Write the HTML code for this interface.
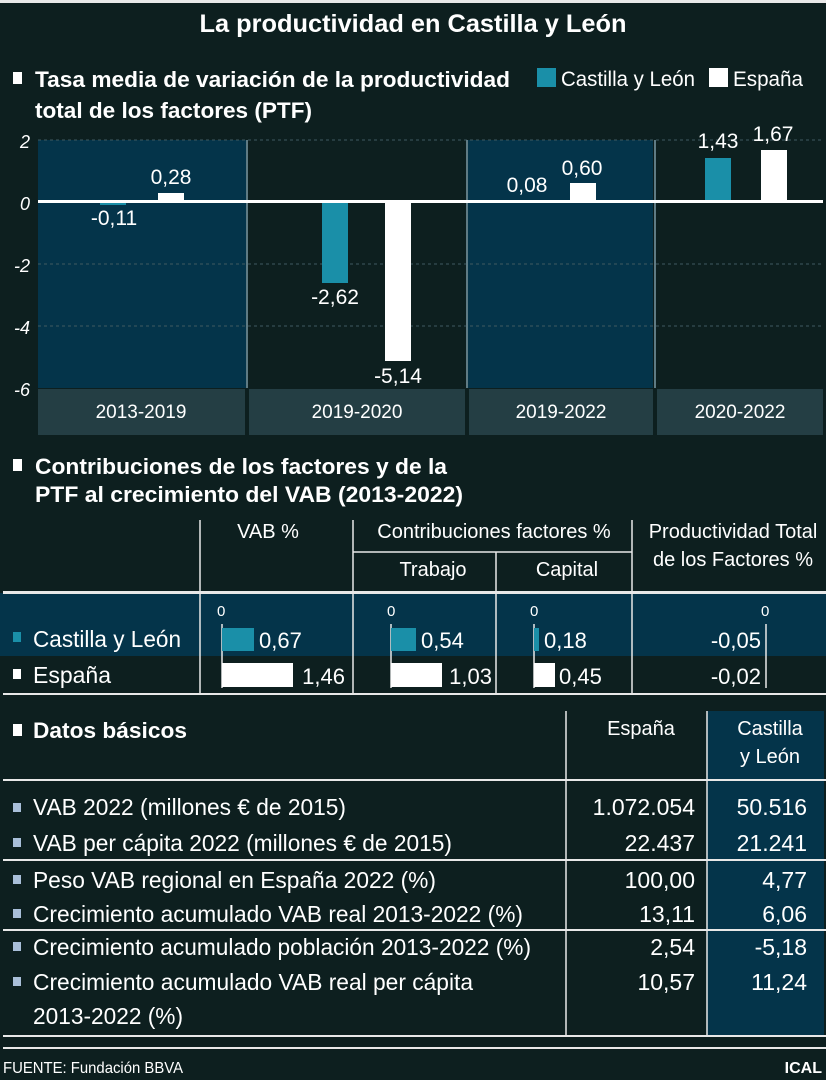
<!DOCTYPE html>
<html><head><meta charset="utf-8"><style>
html,body{margin:0;padding:0;background:#0d1f1f;}
svg{display:block}
text{font-family:"Liberation Sans Narrow","Liberation Sans",sans-serif;fill:#fff}
.b{font-weight:bold}
</style></head><body>
<svg width="826" height="1080" viewBox="0 0 826 1080" xmlns="http://www.w3.org/2000/svg">
<rect width="826" height="1080" fill="#0d1f1f"/>
<rect x="0" y="0" width="826" height="3" fill="#e8e8e8"/>
<text x="413" y="32" text-anchor="middle" class="b" font-size="25" textLength="427" lengthAdjust="spacingAndGlyphs">La productividad en Castilla y León</text>
<rect x="13" y="72" width="9" height="12" fill="#fff"/>
<text x="35" y="87" class="b" font-size="22" textLength="475" lengthAdjust="spacingAndGlyphs">Tasa media de variación de la productividad</text>
<text x="35" y="118" class="b" font-size="22" textLength="277" lengthAdjust="spacingAndGlyphs">total de los factores (PTF)</text>
<rect x="537" y="68" width="19" height="19" fill="#1a8fa8"/>
<text x="561" y="86" font-size="21" textLength="134" lengthAdjust="spacingAndGlyphs">Castilla y León</text>
<rect x="709" y="68" width="19" height="19" fill="#fff"/>
<text x="733" y="86" font-size="21" textLength="70" lengthAdjust="spacingAndGlyphs">España</text>

<!-- chart -->
<rect x="38" y="140" width="208" height="248" fill="#04344a"/>
<rect x="467" y="140" width="186" height="248" fill="#04344a"/>
<g stroke="#3f5a60" stroke-width="1" stroke-dasharray="3,3">
<line x1="38" y1="140" x2="823" y2="140"/><line x1="38" y1="264" x2="823" y2="264"/><line x1="38" y1="326" x2="823" y2="326"/>
</g>
<g stroke="#5f7b84" stroke-width="2"><line x1="247" y1="140" x2="247" y2="388"/><line x1="467" y1="140" x2="467" y2="388"/><line x1="655" y1="140" x2="655" y2="388"/></g>
<g fill="#243e44"><rect x="38" y="389" width="207" height="46"/><rect x="249" y="389" width="216" height="46"/><rect x="469" y="389" width="184" height="46"/><rect x="657" y="389" width="166" height="46"/></g>
<g font-size="19" text-anchor="middle"><text x="141" y="418">2013-2019</text><text x="357" y="418">2019-2020</text><text x="561" y="418">2019-2022</text><text x="740" y="418">2020-2022</text></g>
<g font-size="18" font-style="italic" text-anchor="end"><text x="30" y="148">2</text><text x="30" y="210">0</text><text x="30" y="272">-2</text><text x="30" y="334">-4</text><text x="30" y="396">-6</text></g>
<rect x="100" y="202" width="26" height="3" fill="#1a8fa8"/>
<rect x="158" y="193" width="26" height="9" fill="#fff"/>
<rect x="322" y="202" width="26" height="81" fill="#1a8fa8"/>
<rect x="385" y="202" width="26" height="159" fill="#fff"/>
<rect x="540" y="200" width="26" height="2" fill="#1a8fa8"/>
<rect x="570" y="183" width="26" height="19" fill="#fff"/>
<rect x="705" y="158" width="26" height="44" fill="#1a8fa8"/>
<rect x="761" y="150" width="26" height="52" fill="#fff"/>
<rect x="38" y="200" width="785" height="3" fill="#fff"/>
<g font-size="21" text-anchor="middle">
<text x="114" y="225">-0,11</text><text x="171" y="184">0,28</text>
<text x="335" y="304">-2,62</text><text x="398" y="383">-5,14</text>
<text x="527" y="192">0,08</text><text x="582" y="175">0,60</text>
<text x="718" y="148">1,43</text><text x="773" y="141">1,67</text>
</g>

<!-- section 2 -->
<rect x="13" y="459" width="9" height="12" fill="#fff"/>
<text x="35" y="474" class="b" font-size="22" textLength="412" lengthAdjust="spacingAndGlyphs">Contribuciones de los factores y de la</text>
<text x="35" y="502" class="b" font-size="22" textLength="428" lengthAdjust="spacingAndGlyphs">PTF al crecimiento del VAB (2013-2022)</text>
<rect x="0" y="593" width="826" height="63" fill="#04344a"/>
<g stroke="#e8e8e8" stroke-width="1.5">
<line x1="200" y1="520" x2="200" y2="694"/><line x1="353" y1="520" x2="353" y2="694"/><line x1="496" y1="552" x2="496" y2="694"/><line x1="632" y1="520" x2="632" y2="694"/>
<line x1="353" y1="552" x2="632" y2="552"/>
</g>
<rect x="3" y="591" width="823" height="3" fill="#e8e8e8"/>
<rect x="3" y="693" width="823" height="2" fill="#e8e8e8"/>
<g font-size="20" text-anchor="middle">
<text x="268" y="538">VAB %</text><text x="494" y="538">Contribuciones factores %</text>
<text x="433" y="576">Trabajo</text><text x="567" y="576">Capital</text>
<text x="733" y="538">Productividad Total</text><text x="733" y="566">de los Factores %</text>
</g>
<rect x="13" y="632" width="8" height="10" fill="#1a8fa8"/>
<text x="33" y="647" font-size="23" textLength="148" lengthAdjust="spacingAndGlyphs">Castilla y León</text>
<rect x="13" y="669" width="8" height="10" fill="#fff"/>
<text x="33" y="683" font-size="23" textLength="78" lengthAdjust="spacingAndGlyphs">España</text>
<g font-size="15"><text x="217" y="616">0</text><text x="387" y="616">0</text><text x="530" y="616">0</text><text x="761" y="616">0</text></g>
<g stroke="#e8e8e8" stroke-width="1.5"><line x1="222" y1="624" x2="222" y2="688"/><line x1="391" y1="624" x2="391" y2="688"/><line x1="534" y1="624" x2="534" y2="688"/><line x1="766" y1="624" x2="766" y2="688"/></g>
<rect x="222" y="628" width="32" height="23" fill="#1a8fa8"/><rect x="222" y="663" width="71" height="24" fill="#fff"/>
<rect x="391" y="628" width="25" height="23" fill="#1a8fa8"/><rect x="391" y="663" width="51" height="24" fill="#fff"/>
<rect x="534" y="628" width="5" height="23" fill="#1a8fa8"/><rect x="534" y="663" width="21" height="24" fill="#fff"/>
<g font-size="22"><text x="259" y="648">0,67</text><text x="421" y="648">0,54</text><text x="544" y="648">0,18</text><text x="559" y="684">0,45</text></g>
<g font-size="22" text-anchor="end"><text x="345" y="684">1,46</text><text x="492" y="684">1,03</text><text x="761" y="648">-0,05</text><text x="761" y="684">-0,02</text></g>

<!-- section 3 -->
<rect x="707" y="711" width="117" height="325" fill="#04344a"/>
<g stroke="#e8e8e8" stroke-width="1.5"><line x1="566" y1="711" x2="566" y2="1036"/><line x1="707" y1="711" x2="707" y2="1036"/></g>
<rect x="3" y="779" width="823" height="2" fill="#e8e8e8"/>
<rect x="3" y="859" width="823" height="2" fill="#e8e8e8"/>
<rect x="3" y="929" width="823" height="2" fill="#e8e8e8"/>
<rect x="3" y="1035" width="823" height="2" fill="#e8e8e8"/>
<rect x="3" y="1047" width="823" height="2" fill="#e8e8e8"/>
<rect x="13" y="724" width="9" height="12" fill="#fff"/>
<text x="33" y="738" class="b" font-size="22" textLength="154" lengthAdjust="spacingAndGlyphs">Datos básicos</text>
<g font-size="20" text-anchor="middle"><text x="641" y="735">España</text><text x="770" y="735">Castilla</text><text x="770" y="763">y León</text></g>
<g fill="#a9bfd9"><rect x="13" y="803" width="8" height="9"/><rect x="13" y="838" width="8" height="9"/><rect x="13" y="875" width="8" height="9"/><rect x="13" y="909" width="8" height="9"/><rect x="13" y="942" width="8" height="9"/><rect x="13" y="977" width="8" height="9"/></g>
<g font-size="23">
<text x="33" y="815" textLength="313" lengthAdjust="spacingAndGlyphs">VAB 2022 (millones € de 2015)</text>
<text x="33" y="851" textLength="419" lengthAdjust="spacingAndGlyphs">VAB per cápita 2022 (millones € de 2015)</text>
<text x="33" y="888" textLength="403" lengthAdjust="spacingAndGlyphs">Peso VAB regional en España 2022 (%)</text>
<text x="33" y="922" textLength="490" lengthAdjust="spacingAndGlyphs">Crecimiento acumulado VAB real 2013-2022 (%)</text>
<text x="33" y="955" textLength="498" lengthAdjust="spacingAndGlyphs">Crecimiento acumulado población 2013-2022 (%)</text>
<text x="33" y="990" textLength="440" lengthAdjust="spacingAndGlyphs">Crecimiento acumulado VAB real per cápita</text>
<text x="33" y="1024" textLength="150" lengthAdjust="spacingAndGlyphs">2013-2022 (%)</text>
</g>
<g font-size="23" text-anchor="end">
<text x="695" y="815">1.072.054</text><text x="807" y="815">50.516</text>
<text x="695" y="851">22.437</text><text x="807" y="851">21.241</text>
<text x="695" y="888">100,00</text><text x="807" y="888">4,77</text>
<text x="695" y="922">13,11</text><text x="807" y="922">6,06</text>
<text x="695" y="955">2,54</text><text x="807" y="955">-5,18</text>
<text x="695" y="990">10,57</text><text x="807" y="990">11,24</text>
</g>
<text x="3" y="1073" font-size="16" textLength="180" lengthAdjust="spacingAndGlyphs">FUENTE: Fundación BBVA</text>
<text x="822" y="1073" font-size="16" class="b" text-anchor="end">ICAL</text>
</svg>
</body></html>
